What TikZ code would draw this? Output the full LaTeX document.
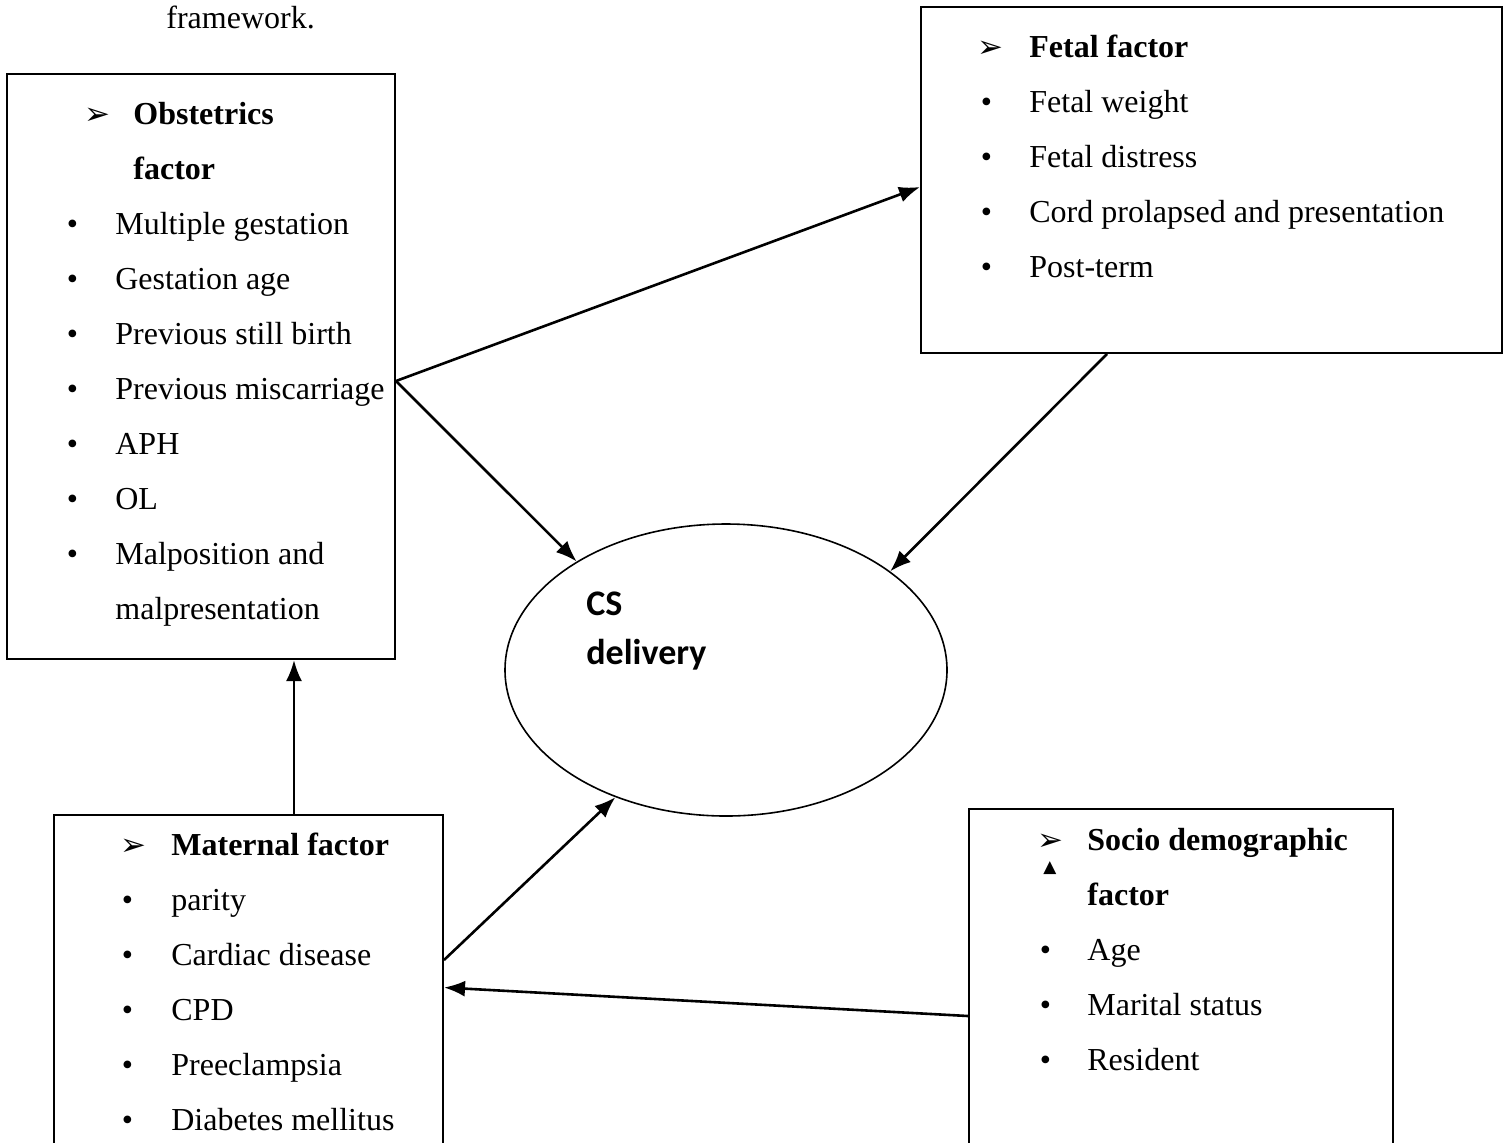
\documentclass[tikz,border=0pt]{standalone}
\usepackage{fontspec}
\setmainfont{Liberation Serif}
\newfontfamily\cfont{Carlito}
\newfontfamily\symfont{DejaVu Sans}
\usetikzlibrary{shapes.geometric, arrows.meta}

\tikzstyle{factorbox} = [rectangle, draw=black, line width=1pt, inner sep=0pt]
\tikzstyle{itemlist} = [anchor=base west, inner sep=0pt, font=\fontsize{16}{27.5}\selectfont]
\tikzstyle{outcome} = [ellipse, draw=black, line width=0.8pt, inner sep=0pt, minimum width=221pt, minimum height=146pt]
\tikzstyle{arrow} = [line width=1.3pt, -{Latex[length=10.5pt, width=8pt]}]

\newcommand{\mk}[2]{\makebox[0pt]{#1}\hspace*{#2}}
\newcommand{\hd}{{\symfont\fontsize{15.5}{15.5}\selectfont ➢}}

\begin{document}
\begin{tikzpicture}[x=0.5pt, y=-0.5pt]
\clip (0,0) rectangle (1509,1142);

\node (caption) [anchor=base west, inner sep=0pt, font=\fontsize{16}{20}\selectfont] at (166,28) {framework.};

%% boxes
\node (obst) [factorbox, minimum width=194pt, minimum height=292.5pt] at (201,366.5) {};
\node (fetal) [factorbox, minimum width=290.5pt, minimum height=173pt] at (1211.5,180) {};
\node (mat) [factorbox, minimum width=194.5pt, minimum height=172.5pt] at (248.5,987.5) {};
\node (socio) [factorbox, minimum width=212pt, minimum height=175.5pt] at (1181,984.5) {};
\node (cs) [outcome] at (726,670) {};

%% box texts
\node (obstlist) [itemlist] at (72,124) {\begin{tabular}[t]{@{}l@{}}
\hspace*{12.5pt}\mk{\hd}{18pt}\textbf{Obstetrics}\\
\hspace*{30.5pt}\textbf{factor}\\
\mk{\textbullet}{21.5pt}Multiple gestation\\
\mk{\textbullet}{21.5pt}Gestation age\\
\mk{\textbullet}{21.5pt}Previous still birth\\
\mk{\textbullet}{21.5pt}Previous miscarriage\\
\mk{\textbullet}{21.5pt}APH\\
\mk{\textbullet}{21.5pt}OL\\
\mk{\textbullet}{21.5pt}Malposition and\\
\hspace*{21.5pt}malpresentation
\end{tabular}};

\node (fetallist) [itemlist] at (986,57) {\begin{tabular}[t]{@{}l@{}}
\hspace*{2pt}\mk{\hd}{19.5pt}\textbf{Fetal factor}\\
\mk{\textbullet}{21.5pt}Fetal weight\\
\mk{\textbullet}{21.5pt}Fetal distress\\
\mk{\textbullet}{21.5pt}Cord prolapsed and presentation\\
\mk{\textbullet}{21.5pt}Post-term
\end{tabular}};

\node (matlist) [itemlist] at (127,855) {\begin{tabular}[t]{@{}l@{}}
\hspace*{3pt}\mk{\hd}{19pt}\textbf{Maternal factor}\\
\mk{\textbullet}{22pt}parity\\
\mk{\textbullet}{22pt}Cardiac disease\\
\mk{\textbullet}{22pt}CPD\\
\mk{\textbullet}{22pt}Preeclampsia\\
\mk{\textbullet}{22pt}Diabetes mellitus
\end{tabular}};

\node (sociolist) [itemlist] at (1045,850) {\begin{tabular}[t]{@{}l@{}}
\hspace*{2.5pt}\mk{\hd}{18.5pt}\textbf{Socio demographic}\\
\hspace*{21pt}\textbf{factor}\\
\mk{\textbullet}{21pt}Age\\
\mk{\textbullet}{21pt}Marital status\\
\mk{\textbullet}{21pt}Resident
\end{tabular}};
\node (tri) [inner sep=0pt, font=\symfont\fontsize{8.5}{8.5}\selectfont] at (1050,868) {▲};

\node (cslabel) [anchor=base west, inner sep=0pt, font=\cfont\bfseries\fontsize{18}{24.5}\selectfont] at (586,615) {\begin{tabular}[t]{@{}l@{}}CS\\delivery\end{tabular}};

%% arrows
\draw [arrow] ([yshift=-7.25pt]obst.east) -- ([yshift=-3.5pt]fetal.west);
\draw [arrow] ([yshift=-7.25pt]obst.east) -- (cs.144.75);
\draw [arrow] ([xshift=-52.25pt]fetal.south) -- (cs.31.07);
\draw [arrow] ([xshift=22.75pt]mat.north) -- ([xshift=22.75pt]mat.north |- obst.south);
\draw [arrow] ([yshift=13.75pt]mat.east) -- (cs.229.4);
\draw [arrow] ([yshift=-15.75pt]socio.west) -- (mat.east);

\end{tikzpicture}
\end{document}
